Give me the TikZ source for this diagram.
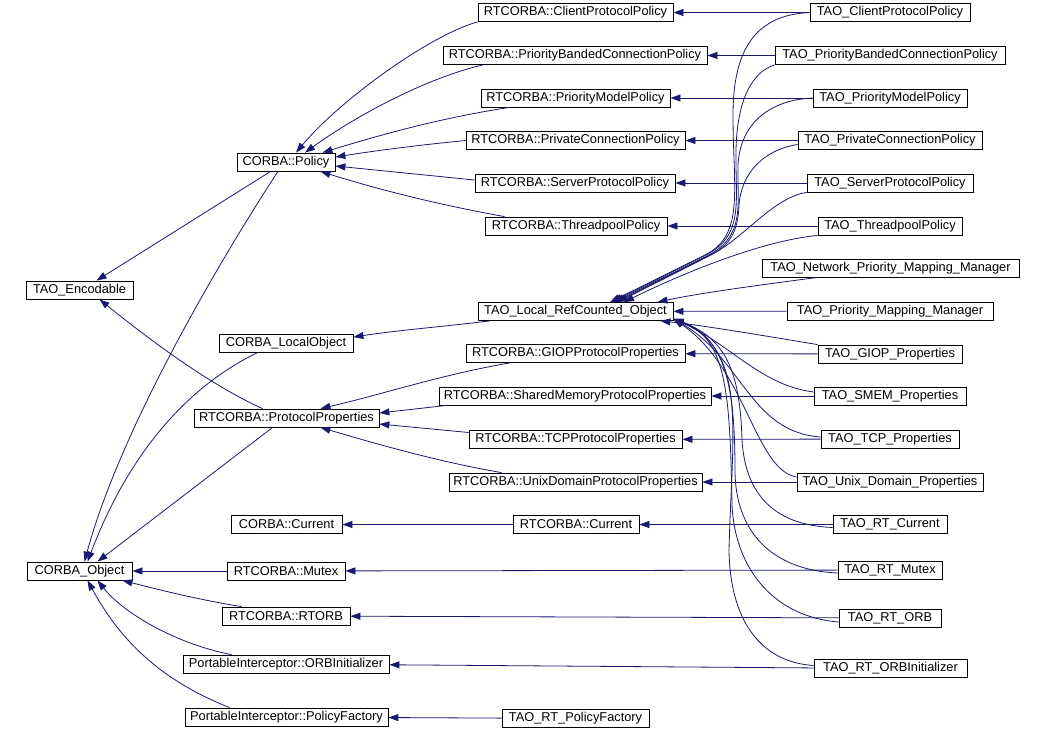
\documentclass[tikz,border=0pt]{standalone}
\usepackage{fontspec}
\setmainfont{Liberation Sans}
\usetikzlibrary{arrows.meta,calc}
\definecolor{edgecol}{RGB}{25,25,112}
\tikzset{
  cls/.style={draw=black,line width=0.8pt,fill=white,inner sep=0pt,minimum height=18pt,
    font=\fontsize{12.8}{14}\selectfont,text=black},
  inh/.style={draw=edgecol,line width=0.8pt,-{Triangle[length=10pt,width=7pt]}}
}
\begin{document}
\begin{tikzpicture}[x=1pt,y=-1pt]
\useasboundingbox (0,0) rectangle (1044,731);
% nodes
\node[cls,minimum width=195] (rcpp) at (575.5,12.5) {RTCORBA::ClientProtocolPolicy};
\node[cls,minimum width=160] (tcpp) at (890,12.5) {TAO\_ClientProtocolPolicy};
\node[cls,minimum width=264] (rpb) at (575,55.5) {RTCORBA::PriorityBandedConnectionPolicy};
\node[cls,minimum width=230] (tpb) at (890,55.5) {TAO\_PriorityBandedConnectionPolicy};
\node[cls,minimum width=189] (rpm) at (575.5,98) {RTCORBA::PriorityModelPolicy};
\node[cls,minimum width=154] (tpm) at (890,98) {TAO\_PriorityModelPolicy};
\node[cls,minimum width=219] (rpc) at (575.5,140.5) {RTCORBA::PrivateConnectionPolicy};
\node[cls,minimum width=184] (tpc) at (890,140.5) {TAO\_PrivateConnectionPolicy};
\node[cls,minimum width=200] (rsp) at (575,183) {RTCORBA::ServerProtocolPolicy};
\node[cls,minimum width=166] (tsp) at (890,183) {TAO\_ServerProtocolPolicy};
\node[cls,minimum width=182] (rtp) at (576,226) {RTCORBA::ThreadpoolPolicy};
\node[cls,minimum width=144] (ttp) at (890,226) {TAO\_ThreadpoolPolicy};
\node[cls,minimum width=98] (pol) at (286,162) {CORBA::Policy};
\node[cls,minimum width=107] (enc) at (79.5,290) {TAO\_Encodable};
\node[cls,minimum width=134] (lob) at (286,343) {CORBA\_LocalObject};
\node[cls,minimum width=195] (lro) at (575.5,311.5) {TAO\_Local\_RefCounted\_Object};
\node[cls,minimum width=257] (tnpm) at (890.5,268) {TAO\_Network\_Priority\_Mapping\_Manager};
\node[cls,minimum width=206] (tpmm) at (890,311) {TAO\_Priority\_Mapping\_Manager};
\node[cls,minimum width=185] (ppr) at (286.5,418) {RTCORBA::ProtocolProperties};
\node[cls,minimum width=219] (rgiop) at (575.5,353.5) {RTCORBA::GIOPProtocolProperties};
\node[cls,minimum width=144] (tgiop) at (890,354) {TAO\_GIOP\_Properties};
\node[cls,minimum width=272] (rsm) at (575,396) {RTCORBA::SharedMemoryProtocolProperties};
\node[cls,minimum width=152] (tsm) at (890,396) {TAO\_SMEM\_Properties};
\node[cls,minimum width=213] (rtcp) at (575.5,439.5) {RTCORBA::TCPProtocolProperties};
\node[cls,minimum width=138] (ttcp) at (890,439) {TAO\_TCP\_Properties};
\node[cls,minimum width=253] (rud) at (575.5,482) {RTCORBA::UnixDomainProtocolProperties};
\node[cls,minimum width=186] (tud) at (890,482) {TAO\_Unix\_Domain\_Properties};
\node[cls,minimum width=111] (ccur) at (286.5,524.5) {CORBA::Current};
\node[cls,minimum width=126] (rcur) at (576,524.5) {RTCORBA::Current};
\node[cls,minimum width=114] (tcur) at (890,524.5) {TAO\_RT\_Current};
\node[cls,minimum width=105] (cobj) at (79.5,571) {CORBA\_Object};
\node[cls,minimum width=118] (rmut) at (286,571) {RTCORBA::Mutex};
\node[cls,minimum width=104] (tmut) at (890,570) {TAO\_RT\_Mutex};
\node[cls,minimum width=128] (rorb) at (286,616) {RTCORBA::RTORB};
\node[cls,minimum width=102] (torb) at (890,618) {TAO\_RT\_ORB};
\node[cls,minimum width=206] (orbi) at (286,664) {PortableInterceptor::ORBInitializer};
\node[cls,minimum width=153] (torbi) at (890.5,668.5) {TAO\_RT\_ORBInitializer};
\node[cls,minimum width=203] (pfac) at (286.5,717) {PortableInterceptor::PolicyFactory};
\node[cls,minimum width=147] (tpf) at (575.5,718.5) {TAO\_RT\_PolicyFactory};
% horizontal edges
\draw[inh] (tcpp) -- (rcpp);
\draw[inh] (tpb) -- (rpb);
\draw[inh] (tpm) -- (rpm);
\draw[inh] (tpc) -- (rpc);
\draw[inh] (tsp) -- (rsp);
\draw[inh] (ttp) -- (rtp);
\draw[inh] (tpmm) -- (lro);
\draw[inh] (tgiop) -- (rgiop);
\draw[inh] (tsm) -- (rsm);
\draw[inh] (ttcp) -- (rtcp);
\draw[inh] (tud) -- (rud);
\draw[inh] (tcur) -- (rcur);
\draw[inh] (rcur) -- (ccur);
\draw[inh] (tmut) -- (rmut);
\draw[inh] (rmut) -- (cobj);
\draw[inh] (torb) -- (rorb);
\draw[inh] (torbi) -- (orbi);
\draw[inh] (tpf) -- (pfac);
% policies -> CORBA::Policy
\draw[inh] (rcpp.south west) .. controls (430,35) and (340,100) .. ($(pol.north)+(10,0)$);
\draw[inh] ($(rpb.south west)+(40,0)$) .. controls (420,80) and (350,120) .. ($(pol.north)+(19,0)$);
\draw[inh] ($(rpm.south west)+(29,0)$) .. controls (440,118) and (380,135) .. ($(pol.north east)+(-13,0)$);
\draw[inh] (rpc.west) .. controls (420,145) and (380,150) .. ($(pol.east)+(0,-5)$);
\draw[inh] ($(rsp.west)+(0,-3)$) -- ($(pol.east)+(0,4)$);
\draw[inh] ($(rtp.north west)+(20,0)$) .. controls (440,205) and (380,190) .. ($(pol.south east)+(-15,0)$);
% properties -> ProtocolProperties
\draw[inh] ($(rgiop.south west)+(44,0)$) .. controls (440,375) and (380,395) .. ($(ppr.north east)+(-59,0)$);
\draw[inh] ($(rsm.south west)+(8,0)$) -- ($(ppr.east)+(0,-5)$);
\draw[inh] ($(rtcp.west)+(0,-7)$) -- ($(ppr.east)+(0,6)$);
\draw[inh] ($(rud.north west)+(53,0)$) .. controls (440,462) and (380,445) .. ($(ppr.south east)+(-59,0)$);
% to TAO_Encodable
\draw[inh] ($(pol.south west)+(34,0)$) -- ($(enc.north)+(17,0)$);
\draw[inh] ($(ppr.north west)+(69,0)$) .. controls (210,385) and (150,340) .. ($(enc.south)+(20,0)$);
% to CORBA_Object from above
\draw[inh] ($(pol.south)+(-8,0)$) .. controls (220,260) and (120,430) .. ($(cobj.north)+(5,0)$);
\draw[inh] ($(lob.south)+(-28,0)$) .. controls (190,385) and (130,450) .. ($(cobj.north)+(8,0)$);
\draw[inh] ($(ppr.south west)+(79,0)$) -- ($(cobj.north)+(18,0)$);
% to CORBA_Object from below
\draw[inh] ($(rorb.north west)+(20,0)$) .. controls (200,600) and (160,590) .. ($(cobj.south east)+(-10,0)$);
\draw[inh] ($(orbi.north west)+(49,0)$) .. controls (180,645) and (125,615) .. ($(cobj.south)+(18,0)$);
\draw[inh] ($(pfac.north west)+(45,0)$) .. controls (160,680) and (120,640) .. ($(cobj.south)+(8,0)$);
% Local_RefCounted -> LocalObject
\draw[inh] ($(lro.south west)+(12,0)$) .. controls (440,327) and (400,330) .. ($(lob.east)+(0,-6)$);
% TAO -> TAO_Local_RefCounted_Object, upper group
\draw[inh] (tcpp.west) .. controls (755,15) and (733,50) .. (733,115) .. controls (733,190) and (745,235) .. (705,255) -- ($(lro.north)+(34.5,0)$);
\draw[inh] (tpb.south west) .. controls (752,72) and (737,100) .. (736,150) .. controls (735,200) and (745,235) .. (706,255) -- ($(lro.north)+(36.5,0)$);
\draw[inh] (tpm.west) .. controls (768,100) and (740,125) .. (738,165) .. controls (737,205) and (746,236) .. (707,256) -- ($(lro.north)+(38.5,0)$);
\draw[inh] ($(tpc.west)+(0,4)$) .. controls (762,150) and (741,175) .. (739,205) .. controls (738,232) and (730,246) .. (708,256) -- ($(lro.north)+(40.5,0)$);
\draw[inh] (tsp.south west) .. controls (772,198) and (745,238) .. (709,256) -- ($(lro.north)+(42.5,0)$);
\draw[inh] (ttp.south west) .. controls (770,240) and (700,265) .. ($(lro.north)+(48.5,0)$);
\draw[inh] ($(tnpm.south west)+(56,0)$) .. controls (760,285) and (700,293) .. ($(lro.north east)+(-16,0)$);
% lower group
\draw[inh] (tgiop.north west) .. controls (760,335) and (700,325) .. ($(lro.south east)+(-13,0)$);
\draw[inh] ($(tsm.west)+(0,-4)$) .. controls (760,385) and (732,345) .. ($(lro.south east)+(0,-2)$);
\draw[inh] ($(ttcp.west)+(0,-2)$) .. controls (750,432) and (742,358) .. ($(lro.south east)+(0,-2)$);
\draw[inh] ($(tud.west)+(0,-5)$) .. controls (755,470) and (746,368) .. ($(lro.south east)+(0,-2)$);
\draw[inh] ($(tcur.west)+(0,3)$) .. controls (770,525) and (745,490) .. (742,440) .. controls (740,370) and (725,338) .. ($(lro.south east)+(0,-2)$);
\draw[inh] ($(tmut.west)+(0,3)$) .. controls (770,570) and (735,530) .. (735,470) .. controls (735,385) and (725,338) .. ($(lro.south east)+(0,-2)$);
\draw[inh] ($(torb.west)+(0,4)$) .. controls (775,617) and (735,570) .. (732,505) .. controls (730,395) and (727,338) .. ($(lro.south east)+(0,-2)$);
\draw[inh] ($(torbi.west)+(0,-3)$) .. controls (760,662) and (730,620) .. (729,550) .. controls (732,430) and (748,350) .. ($(lro.south east)+(0,-2)$);
\end{tikzpicture}
\end{document}
